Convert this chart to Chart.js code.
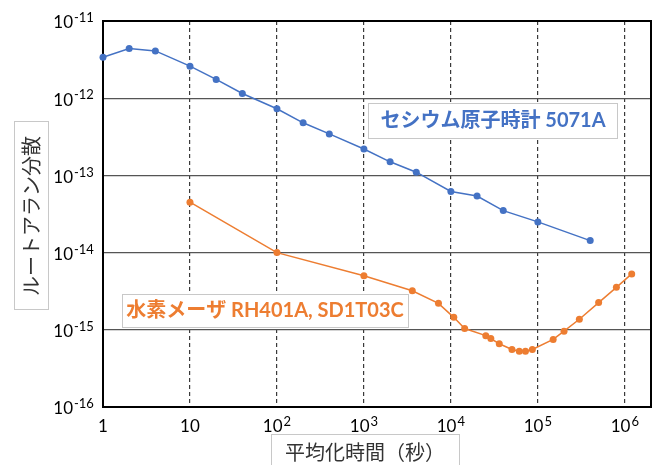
<!DOCTYPE html>
<html>
<head>
<meta charset="utf-8">
<script src="https://cdn.jsdelivr.net/npm/chart.js@4.4.1/dist/chart.umd.min.js"></script>
<style>
  body { margin: 0; background: #fff; }
  canvas { display: block; }
</style>
</head>
<body>
<canvas id="chart" width="660" height="465"></canvas>
<script>
// averaging time (s) and root Allan variance for each clock
const cesiumTau = [1, 2, 4, 10, 20, 40, 100, 200, 400, 1000, 2000, 4000, 10000, 20000, 40000, 100000, 400000];
const cesiumDev = [3.4e-12, 4.4e-12, 4.1e-12, 2.6e-12, 1.75e-12, 1.15e-12, 7.3e-13, 4.8e-13, 3.45e-13,
                   2.2e-13, 1.5e-13, 1.1e-13, 6.2e-14, 5.4e-14, 3.5e-14, 2.5e-14, 1.43e-14];

const maserTau = [10, 100, 1000, 3600, 7200, 10800, 14400, 25200, 28800, 36000, 50400, 61200, 72000,
                  86400, 150000, 200000, 300000, 500000, 800000, 1200000];
const maserDev = [4.5e-14, 1.0e-14, 5.0e-15, 3.2e-15, 2.2e-15, 1.45e-15, 1.04e-15, 8.4e-16, 7.7e-16, 6.6e-16,
                  5.55e-16, 5.27e-16, 5.27e-16, 5.55e-16, 7.5e-16, 9.6e-16, 1.37e-15, 2.25e-15, 3.55e-15, 5.3e-15];

const xTicks = [1, 10, 100, 1000, 10000, 100000, 1000000];
const yTicks = [1e-16, 1e-15, 1e-14, 1e-13, 1e-12, 1e-11];

const cesiumLabel = 'セシウム原子時計 5071A';
const maserLabel = '水素メーザ RH401A, SD1T03C';
const xTitle = '平均化時間（秒）';
const yTitle = 'ルートアラン分散';

const BLUE = '#4472C4';
const ORANGE = '#ED7D31';
const FONT = 'Lato, "Noto Sans CJK JP", sans-serif';

function toPoints(xs, ys) {
    return xs.map((x, i) => ({ x: x, y: ys[i] }));
}

function boxedText(ctx, text, cx, cy, font, color, box) {
    ctx.save();
    ctx.fillStyle = '#fff';
    ctx.fillRect(box[0], box[1], box[2], box[3]);
    ctx.strokeStyle = '#c8c8c8';
    ctx.lineWidth = 1;
    ctx.strokeRect(box[0] + 0.5, box[1] + 0.5, box[2], box[3]);
    ctx.font = font;
    ctx.fillStyle = color;
    ctx.textAlign = 'center';
    ctx.textBaseline = 'middle';
    ctx.fillText(text, cx, cy);
    ctx.restore();
}

// power-of-ten labels with a raised exponent
function powerLabel(ctx, exp, x, y, align) {
    const base = '10';
    const sup = String(exp);
    ctx.font = '17px ' + FONT;
    const bw = ctx.measureText(base).width;
    ctx.font = '13px ' + FONT;
    const sw = ctx.measureText(sup).width;
    let left;
    if (align === 'y') left = x - bw;
    else left = x - (bw + sw + 1) / 2;
    ctx.textBaseline = 'middle';
    ctx.textAlign = 'left';
    ctx.font = '17px ' + FONT;
    ctx.fillText(base, left, y);
    ctx.font = '13px ' + FONT;
    ctx.fillText(sup, left + bw + 1, y - 5);
}

const framePlugin = {
    id: 'frame',
    beforeDatasetsDraw(chart) {
        const a = chart.chartArea;
        const ctx = chart.ctx;
        ctx.save();
        ctx.strokeStyle = '#000';
        ctx.lineWidth = 2;
        ctx.strokeRect(a.left, a.top, a.right - a.left, a.bottom - a.top);
        ctx.restore();
    },
    afterDraw(chart) {
        const ctx = chart.ctx;
        const xs = chart.scales.x;
        const ys = chart.scales.y;
        ctx.save();
        ctx.fillStyle = '#000';
        yTicks.forEach(v => {
            const py = ys.getPixelForValue(v);
            powerLabel(ctx, Math.round(Math.log10(v)), 73, py + 2, 'y');
        });
        xTicks.forEach(v => {
            const px = xs.getPixelForValue(v);
            const e = Math.round(Math.log10(v));
            if (e === 0 || e === 1) {
                ctx.font = '17px ' + FONT;
                ctx.textAlign = 'center';
                ctx.textBaseline = 'middle';
                ctx.fillText(e === 0 ? '1' : '10', px, 427);
            } else {
                powerLabel(ctx, e, px, 427, 'x');
            }
        });
        ctx.restore();

        boxedText(ctx, cesiumLabel, 493, 121, 'bold 20px ' + FONT, BLUE, [368, 103, 249, 35]);
        boxedText(ctx, maserLabel, 265, 311, 'bold 20px ' + FONT, ORANGE, [122, 294, 286, 33]);
        boxedText(ctx, xTitle, 365, 452, '20px "Noto Sans CJK JP", sans-serif', '#333', [271, 434, 188, 40]);

        ctx.save();
        ctx.translate(31, 216);
        ctx.rotate(-Math.PI / 2);
        boxedText(ctx, yTitle, 0, 0, '20px "Noto Sans CJK JP", sans-serif', '#333', [-94, -17, 188, 34]);
        ctx.restore();
    }
};

new Chart(document.getElementById('chart'), {
    type: 'line',
    data: {
        datasets: [
            {
                label: cesiumLabel,
                data: toPoints(cesiumTau, cesiumDev),
                borderColor: BLUE,
                backgroundColor: BLUE,
                borderWidth: 1.5,
                pointRadius: 3.5,
                pointBorderWidth: 0,
                tension: 0,
                clip: false
            },
            {
                label: maserLabel,
                data: toPoints(maserTau, maserDev),
                borderColor: ORANGE,
                backgroundColor: ORANGE,
                borderWidth: 1.5,
                pointRadius: 3.5,
                pointBorderWidth: 0,
                tension: 0,
                clip: false
            }
        ]
    },
    options: {
        responsive: false,
        animation: false,
        layout: { padding: { left: 0, right: 9, top: 21, bottom: 0 } },
        plugins: {
            legend: { display: false },
            tooltip: { enabled: false }
        },
        scales: {
            x: {
                type: 'logarithmic',
                min: 1,
                max: 2000000,
                afterBuildTicks: s => { s.ticks = xTicks.map(v => ({ value: v })); },
                afterFit: s => { s.height = 58; },
                ticks: { display: false },
                grid: { color: '#3a3a3a', lineWidth: 1.2, drawTicks: false },
                border: { display: false, dash: [4, 3] }
            },
            y: {
                type: 'logarithmic',
                min: 1e-16,
                max: 1e-11,
                afterBuildTicks: s => { s.ticks = yTicks.map(v => ({ value: v })); },
                afterFit: s => { s.width = 103; },
                ticks: { display: false },
                grid: { color: '#555', lineWidth: 1.3, drawTicks: false },
                border: { display: false }
            }
        }
    },
    plugins: [framePlugin]
});
</script>
</body>
</html>
